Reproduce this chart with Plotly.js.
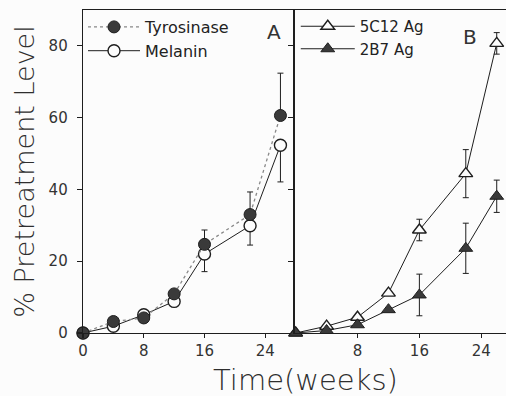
<!DOCTYPE html>
<html>
<head>
<meta charset="utf-8">
<script src="https://cdn.plot.ly/plotly-3.0.1.min.js"></script>
<style>html,body{margin:0;padding:0;background:#fcfcfc;}#chart{width:506px;height:396px;}</style>
</head>
<body>
<div id="chart"></div>
<script>
// ---- Data ----
var weeks = [0, 4, 8, 12, 16, 22, 26];
var xTicksA = [0, 8, 16, 24];
var xTicksB = [8, 16, 24];
var yTicks = [0, 20, 40, 60, 80];

// Panel A
var tyrosinase    = [0, 3.2, 4.2, 10.9, 24.7, 33.0, 60.6];
var tyrosinaseErr = [0, 0, 0, 0, 4.0, 6.3, 11.8];
var melanin       = [0, 1.9, 5.1, 8.8, 22.0, 29.9, 52.3];
var melaninErr    = [0, 0, 0, 0, 4.9, 5.4, 10.2];

// Panel B
var ag5C12    = [0, 1.9, 4.4, 11.1, 28.7, 44.4, 80.7];
var ag5C12Err = [0, 0, 0, 0, 3.0, 6.7, 3.0];
var ag2B7     = [0, 0.7, 2.3, 6.5, 10.6, 23.6, 38.1];
var ag2B7Err  = [0, 0, 0, 0, 5.8, 7.0, 4.5];

var panelLabels = ['A', 'B'];
var xTitle = 'Time(weeks)';
var yTitle = '% Pretreatment Level';

// ---- Styling ----
var INK = '#1e1e1e';
var BG = '#fcfcfc';
var FONT = 'DejaVu Sans, sans-serif';
var LIGHT = 'DejaVu Sans ExtraLight, DejaVu Sans, sans-serif';

function errBar(arr, up, down) {
  return {type: 'data', symmetric: false,
    array: up ? arr : arr.map(function(){return 0;}),
    arrayminus: down ? arr : arr.map(function(){return 0;}),
    color: INK, thickness: 1, width: 3, visible: true};
}

var traces = [
  {x: weeks, y: melanin, name: 'Melanin', xaxis: 'x', yaxis: 'y', legend: 'legend', legendrank: 2,
   mode: 'lines+markers', line: {color: INK, width: 1},
   marker: {symbol: 'circle', size: 12, color: BG, line: {color: INK, width: 1.4}},
   error_y: errBar(melaninErr, false, true), cliponaxis: false},
  {x: weeks, y: tyrosinase, name: 'Tyrosinase', xaxis: 'x', yaxis: 'y', legend: 'legend', legendrank: 1,
   mode: 'lines+markers', line: {color: '#888', width: 1.3, dash: 'dot'},
   marker: {symbol: 'circle', size: 12, color: '#3a3a3a', line: {color: INK, width: 1}},
   error_y: errBar(tyrosinaseErr, true, false), cliponaxis: false},
  {x: weeks, y: ag5C12, name: '5C12 Ag', xaxis: 'x2', yaxis: 'y2', legend: 'legend2', legendrank: 1,
   mode: 'lines+markers', line: {color: INK, width: 1},
   marker: {symbol: 'triangle-up', size: 12, color: BG, line: {color: INK, width: 1.4}},
   error_y: errBar(ag5C12Err, true, true), cliponaxis: false},
  {x: weeks, y: ag2B7, name: '2B7 Ag', xaxis: 'x2', yaxis: 'y2', legend: 'legend2', legendrank: 2,
   mode: 'lines+markers', line: {color: INK, width: 1},
   marker: {symbol: 'triangle-up', size: 12, color: '#3a3a3a', line: {color: INK, width: 1}},
   error_y: errBar(ag2B7Err, true, true), cliponaxis: false}
];

var tickFont = {family: FONT, size: 15, color: '#333'};

function xAx(domain, range, anchor, ticks, extra) {
  var a = {domain: domain, range: range, anchor: anchor, tickvals: ticks, ticktext: ticks.map(String),
    showgrid: false, zeroline: false, showline: true, linecolor: INK, linewidth: 1.3,
    ticks: 'outside', ticklen: 4, tickcolor: INK, tickwidth: 1.2, tickfont: tickFont, fixedrange: true};
  for (var k in extra) a[k] = extra[k];
  return a;
}
function yAx(range, anchor, ticks, extra) {
  var a = {domain: [0, 1], range: range, anchor: anchor, tickvals: ticks, ticktext: ticks.map(String),
    showgrid: false, zeroline: false, showline: true, linecolor: INK, linewidth: 1.3,
    ticks: 'outside', ticklen: 5, tickcolor: INK, tickwidth: 1.2, tickfont: tickFont, fixedrange: true};
  for (var k in extra) a[k] = extra[k];
  return a;
}

var xRangeA = [0, 27.85];
var xRangeB = [-0.15, 27.2];
var yRange = [0, 90];
var yTicksB = yTicks.slice(1);

var layout = {
  width: 506, height: 396,
  margin: {l: 83, r: 0, t: 10, b: 63, pad: 0},
  paper_bgcolor: BG, plot_bgcolor: BG,
  font: {family: FONT, color: '#333'},
  showlegend: true,
  xaxis: xAx([0, 0.5], xRangeA, 'y', xTicksA, {mirror: true}),
  xaxis2: xAx([0.5, 1], xRangeB, 'y2', xTicksB, {mirror: true}),
  xaxis3: xAx([0, 0.5], xRangeA, 'y', xTicksA, {overlaying: 'x', ticks: 'inside', showticklabels: false, showline: false}),
  xaxis4: xAx([0.5, 1], xRangeB, 'y2', xTicksB, {overlaying: 'x2', ticks: 'inside', showticklabels: false, showline: false}),
  yaxis: yAx(yRange, 'x', yTicks, {ticklabelstandoff: 6,
    title: {text: yTitle, font: {family: LIGHT, size: 27, color: '#2e2e2e', weight: 200}, standoff: 6}}),
  yaxis3: yAx(yRange, 'x', yTicks, {overlaying: 'y', ticks: 'inside', showticklabels: false, showline: false}),
  yaxis2: yAx(yRange, 'x2', yTicksB, {showticklabels: false}),
  yaxis4: yAx(yRange, 'x2', yTicksB, {overlaying: 'y2', ticks: 'inside', showticklabels: false, showline: false}),
  legend: {x: 0, xanchor: 'left', y: 1, yanchor: 'top', bgcolor: 'rgba(0,0,0,0)', borderwidth: 0,
    font: {family: FONT, size: 16, color: '#222'}, tracegroupgap: 0, itemwidth: 52},
  legend2: {x: 0.503, xanchor: 'left', y: 1, yanchor: 'top', bgcolor: 'rgba(0,0,0,0)', borderwidth: 0,
    font: {family: FONT, size: 15, color: '#222'}, tracegroupgap: 0, itemwidth: 54},
  annotations: [
    {text: panelLabels[0], xref: 'x', yref: 'y', x: 25.2, y: 84, showarrow: false,
     font: {family: FONT, size: 20, color: '#333'}},
    {text: panelLabels[1], xref: 'x2', yref: 'y2', x: 22.5, y: 82.5, showarrow: false,
     font: {family: FONT, size: 20, color: '#333'}},
    {text: xTitle, xref: 'paper', yref: 'paper', x: (305 - 83) / 423, y: -0.145, xanchor: 'center', yanchor: 'middle',
     showarrow: false, font: {family: LIGHT, size: 29, color: '#2e2e2e', weight: 200}}
  ]
};

Plotly.newPlot('chart', traces, layout, {staticPlot: true, displayModeBar: false});
</script>
</body>
</html>
